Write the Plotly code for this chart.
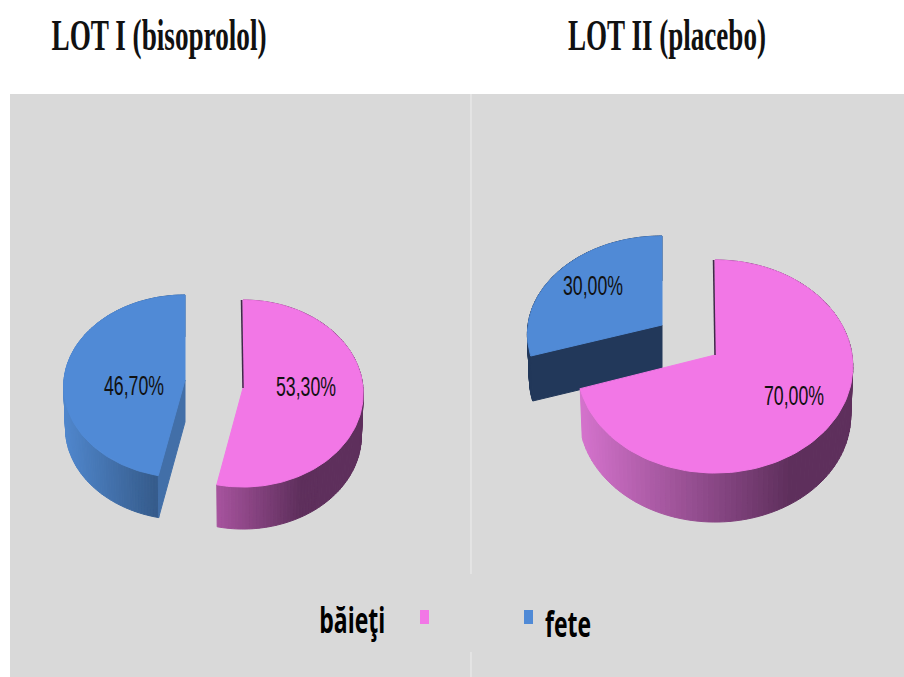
"""Two exploded 3D style pies: sex distribution in LOT I and LOT II."""

import json

import numpy as np
import plotly.graph_objects as go

titles = ["LOT I (bisoprolol)", "LOT II (placebo)"]
categories = ["băieţi", "fete"]
lot1_values = [53.3, 46.7]
lot2_values = [70.0, 30.0]

PINK = "#f277e6"
BLUE = "#508ad6"
GREY = "#d9d9d9"

# geometry per wedge: apex, radii, perspective, depth, side gradient
WEDGES = [
    dict(lot=1, idx=1, apex=(185, 380), rx=121, ry=91, p=0.07, depth=42,
         face=BLUE, side=("#4f86cc", "#365c8c"), grad=(65, 154),
         cut="#426fa8", label=(134, 388)),
    dict(lot=1, idx=0, apex=(243, 388), rx=120, ry=93.2, p=0.059, depth=42,
         face=PINK, side=("#a5529c", "#5e2f5c"), grad=(219, 300),
         edge="#3f2a48", label=(306, 389)),
    dict(lot=2, idx=1, apex=(662, 325), rx=134, ry=97.4, p=0.094, depth=45,
         face=BLUE, side=("#22385a", "#22385a"), grad=(527, 662),
         cut="#22385a", label=(593, 288)),
    dict(lot=2, idx=0, apex=(715, 355), rx=137, ry=105.3, p=0.108, depth=49,
         face=PINK, side=("#d472cc", "#5e2f5c"), grad=(581, 790),
         edge="#3f2a48", label=(794, 398)),
]

# the source image is squeezed sideways, so text is fitted to these widths
TEXT_WIDTHS = {
    titles[0]: 215, titles[1]: 198,
    categories[0]: 66, categories[1]: 46,
    "53,30%": 60, "46,70%": 60, "70,00%": 60, "30,00%": 60,
}


def project(w, theta, scale=1.0, drop=0.0):
    """Screen position of a rim point, theta in degrees clockwise from top."""
    rad = np.radians(theta)
    x_disc, y_disc = np.sin(rad), np.cos(rad)
    persp = 1 + w["p"] * y_disc
    sx = w["apex"][0] + scale * w["rx"] * x_disc / persp
    sy = w["apex"][1] - w["ry"] * y_disc / persp + drop
    return sx, sy


def mix(c1, c2, t):
    a = [int(c1[i:i + 2], 16) for i in (1, 3, 5)]
    b = [int(c2[i:i + 2], 16) for i in (1, 3, 5)]
    return "rgb({},{},{})".format(*[round(u + (v - u) * t) for u, v in zip(a, b)])


def polygon(xs, ys, color):
    return go.Scatter(
        x=list(xs), y=list(ys), mode="lines", fill="toself", fillcolor=color,
        line=dict(color=color, width=1), hoverinfo="skip", showlegend=False,
    )


fig = go.Figure()

for w in WEDGES:
    values = lot1_values if w["lot"] == 1 else lot2_values
    start = 0.0 if w["idx"] == 0 else values[0] * 3.6
    end = start + values[w["idx"]] * 3.6
    thetas = np.linspace(start, end, 121)

    # outer wall, one small strip per step so the shading can vary
    for t0, t1 in zip(thetas[:-1], thetas[1:]):
        x0, y0 = project(w, t0)
        x1, y1 = project(w, t1)
        x2, y2 = project(w, t1, 0.985, w["depth"])
        x3, y3 = project(w, t0, 0.985, w["depth"])
        frac = np.clip(((x0 + x1) / 2 - w["grad"][0]) / (w["grad"][1] - w["grad"][0]), 0, 1)
        fig.add_trace(polygon([x0, x1, x2, x3, x0], [y0, y1, y2, y3, y0],
                              mix(w["side"][0], w["side"][1], frac)))

    # cut wall that faces the viewer
    if "cut" in w:
        ex, ey = project(w, start)
        bx, by = project(w, start, 0.985, w["depth"])
        ax, ay = w["apex"]
        fig.add_trace(polygon([ax, ex, bx, ax, ax], [ay, ey, by, ay + w["depth"], ay], w["cut"]))

    rim = [project(w, t) for t in thetas]
    fig.add_trace(polygon(
        [w["apex"][0]] + [r[0] for r in rim] + [w["apex"][0]],
        [w["apex"][1]] + [r[1] for r in rim] + [w["apex"][1]],
        w["face"],
    ))

    if "edge" in w:
        tx, ty = project(w, 0.0)
        fig.add_trace(go.Scatter(x=[tx - 1.5, w["apex"][0]], y=[ty, w["apex"][1]], mode="lines",
                                 line=dict(color=w["edge"], width=1.5),
                                 hoverinfo="skip", showlegend=False))

    fig.add_trace(go.Scatter(
        x=[w["label"][0]], y=[w["label"][1]], mode="text",
        text=[f"{values[w['idx']]:.2f}%".replace(".", ",")],
        textfont=dict(family="Liberation Sans", size=27, color="#111111"),
        hoverinfo="skip", showlegend=False,
    ))

shapes = [
    dict(type="rect", x0=10, x1=904, y0=94, y1=677, fillcolor=GREY, line_width=0, layer="below"),
    dict(type="line", x0=471, x1=471, y0=94, y1=574, line=dict(color="#eeeeee", width=1), layer="below"),
    dict(type="line", x0=471, x1=471, y0=652, y1=677, line=dict(color="#eeeeee", width=1), layer="below"),
    dict(type="rect", x0=420, x1=429, y0=610, y1=624, fillcolor=PINK, line_width=0),
    dict(type="rect", x0=524, x1=533, y0=610, y1=624, fillcolor=BLUE, line_width=0),
]

annotations = [
    dict(x=159, y=35, text=titles[0], showarrow=False,
         font=dict(family="Liberation Serif", size=44, color="#111111", weight=700)),
    dict(x=667, y=35, text=titles[1], showarrow=False,
         font=dict(family="Liberation Serif", size=44, color="#111111", weight=700)),
    dict(x=352, y=619, text=categories[0], showarrow=False,
         font=dict(family="Open Sans", size=35, color="#000000", weight=700)),
    dict(x=568, y=623, text=categories[1], showarrow=False,
         font=dict(family="Open Sans", size=35, color="#000000", weight=700)),
]

fig.update_layout(
    width=904, height=677, margin=dict(l=0, r=0, t=0, b=0),
    paper_bgcolor="white", plot_bgcolor="white",
    shapes=shapes, annotations=annotations, showlegend=False,
    xaxis=dict(range=[0, 904], visible=False, fixedrange=True),
    yaxis=dict(range=[677, 0], visible=False, fixedrange=True),
)

# drop the page margin and squeeze the text to the widths above
post_script = """
document.body.style.margin = '0';
var widths = %s;
document.querySelectorAll('svg text').forEach(function (el) {
    var target = widths[el.textContent];
    if (target) {
        el.setAttribute('textLength', target);
        el.setAttribute('lengthAdjust', 'spacingAndGlyphs');
    }
});
""" % json.dumps(TEXT_WIDTHS, ensure_ascii=False)

fig.write_html("out.html", config=dict(displayModeBar=False), post_script=post_script)
